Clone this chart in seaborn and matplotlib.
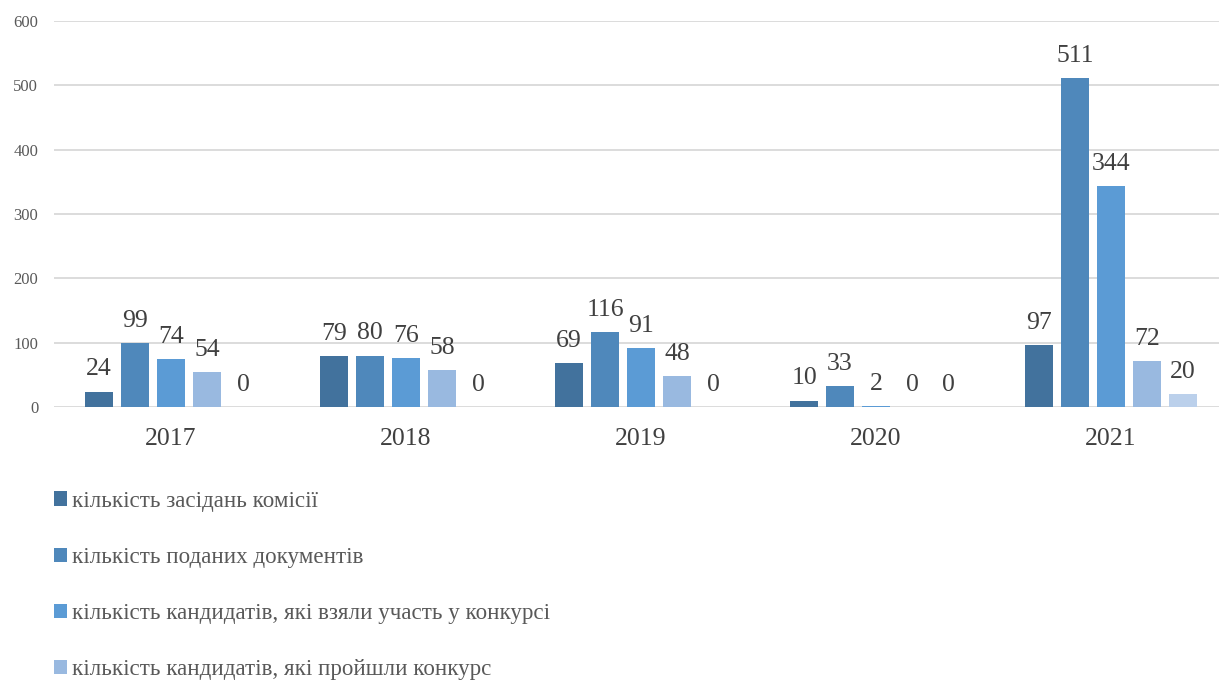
import matplotlib
matplotlib.use("Agg")
import matplotlib.pyplot as plt
import pandas as pd
import seaborn as sns

years = ["2017", "2018", "2019", "2020", "2021"]
series = [
    "кількість засідань комісії",
    "кількість поданих документів",
    "кількість кандидатів, які взяли участь у конкурсі",
    "кількість кандидатів, які пройшли конкурс",
    "п'ятий показник",
]
meetings = [24, 79, 69, 10, 97]
documents = [99, 80, 116, 33, 511]
participants = [74, 76, 91, 2, 344]
passed = [54, 58, 48, 0, 72]
fifth = [0, 0, 0, 0, 20]
colors = ["#42729D", "#4F88BB", "#5B9BD5", "#99B9E0", "#BBD0EB"]

rows = []
for name, vals in zip(series, [meetings, documents, participants, passed, fifth]):
    for y, v in zip(years, vals):
        rows.append({"year": y, "series": name, "value": v})
df = pd.DataFrame(rows)

sns.set_style("white")
plt.rcParams["font.family"] = ["Liberation Serif", "DejaVu Serif"]

fig = plt.figure(figsize=(12.19, 6.81), dpi=100)
# axes runs a bit past the right edge, like the source image
ax = fig.add_axes([0.0439, 0.4023, 0.964, 0.5668])

sns.barplot(data=df, x="year", y="value", hue="series", palette=colors,
            width=0.766, gap=0.22, legend=False, ax=ax, saturation=1,
            linewidth=0)

for c in ax.containers:
    ax.bar_label(c, padding=8, fontsize=18.5, color="#404040")

ax.set_ylim(0, 600)
ax.set_yticks(range(0, 601, 100))
ax.yaxis.grid(True, color="#d9d9d9", linewidth=1.3)
ax.set_axisbelow(True)
for s in ax.spines.values():
    s.set_visible(False)
ax.tick_params(axis="y", length=0, labelsize=12, labelcolor="#595959", pad=11)
ax.tick_params(axis="x", length=0, labelsize=18.5, labelcolor="#404040", pad=15)
ax.set_xlabel("")
ax.set_ylabel("")
ax.set_xlim(-0.5, 4.5)

handles = [c.patches[0] for c in ax.containers[:4]]
fig.legend(handles, series[:4], loc="upper left", bbox_to_anchor=(0.027, 0.31),
           frameon=False, fontsize=16.6, labelspacing=1.53, handlelength=0.57,
           handleheight=0.57, handletextpad=0.22, labelcolor="#595959")

fig.savefig("out.png", dpi=100)
